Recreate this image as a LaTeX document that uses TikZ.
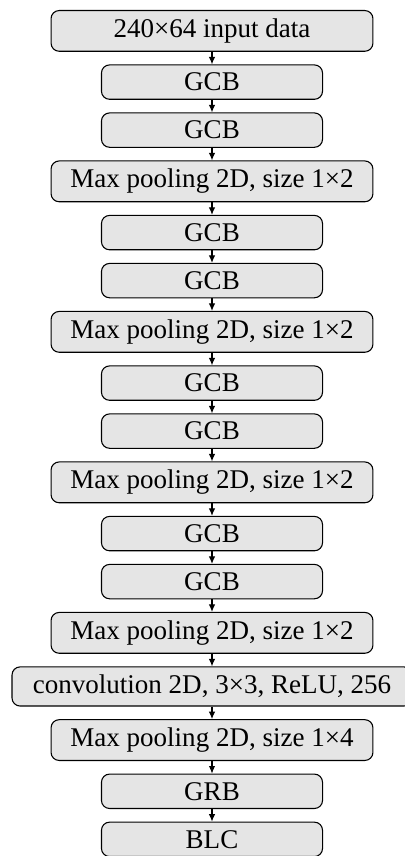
\documentclass[tikz,border=0pt]{standalone}
\usepackage{fontspec}
\setmainfont{Liberation Serif}
\usetikzlibrary{positioning,arrows.meta}
\begin{document}
\begin{tikzpicture}[
  blk/.style={draw=black, line width=0.4pt, fill=gray!20, rounded corners=3pt, inner sep=3pt, font=\fontsize{10}{12}\selectfont},
  wide/.style={blk, minimum width=119.1pt},
  narrow/.style={blk, minimum width=81.8pt},
  convbox/.style={blk, minimum width=148pt},
  arr/.style={-{Latex[length=2.8pt,width=2.4pt]}, line width=0.4pt},
  node distance=4.65pt
]
\clip (0,0) rectangle (149.85pt,316.72pt);
\node[wide, anchor=north] (n1) at (78.44pt,313.02pt) {240×64 input data};
\node[narrow, below=of n1] (n2) {GCB};
\node[narrow, below=of n2] (n3) {GCB};
\node[wide, below=of n3] (n4) {Max pooling 2D, size 1×2};
\node[narrow, below=of n4] (n5) {GCB};
\node[narrow, below=of n5] (n6) {GCB};
\node[wide, below=of n6] (n7) {Max pooling 2D, size 1×2};
\node[narrow, below=of n7] (n8) {GCB};
\node[narrow, below=of n8] (n9) {GCB};
\node[wide, below=of n9] (n10) {Max pooling 2D, size 1×2};
\node[narrow, below=of n10] (n11) {GCB};
\node[narrow, below=of n11] (n12) {GCB};
\node[wide, below=of n12] (n13) {Max pooling 2D, size 1×2};
\node[convbox, below=of n13] (n14) {convolution 2D, 3×3, ReLU, 256};
\node[wide, below=of n14] (n15) {Max pooling 2D, size 1×4};
\node[narrow, below=of n15] (n16) {GRB};
\node[narrow, below=of n16] (n17) {BLC};
\foreach \a/\b in {n1/n2,n2/n3,n3/n4,n4/n5,n5/n6,n6/n7,n7/n8,n8/n9,n9/n10,n10/n11,n11/n12,n12/n13,n13/n14,n14/n15,n15/n16,n16/n17}
  \draw[arr] (\a) -- (\b);
\end{tikzpicture}
\end{document}
